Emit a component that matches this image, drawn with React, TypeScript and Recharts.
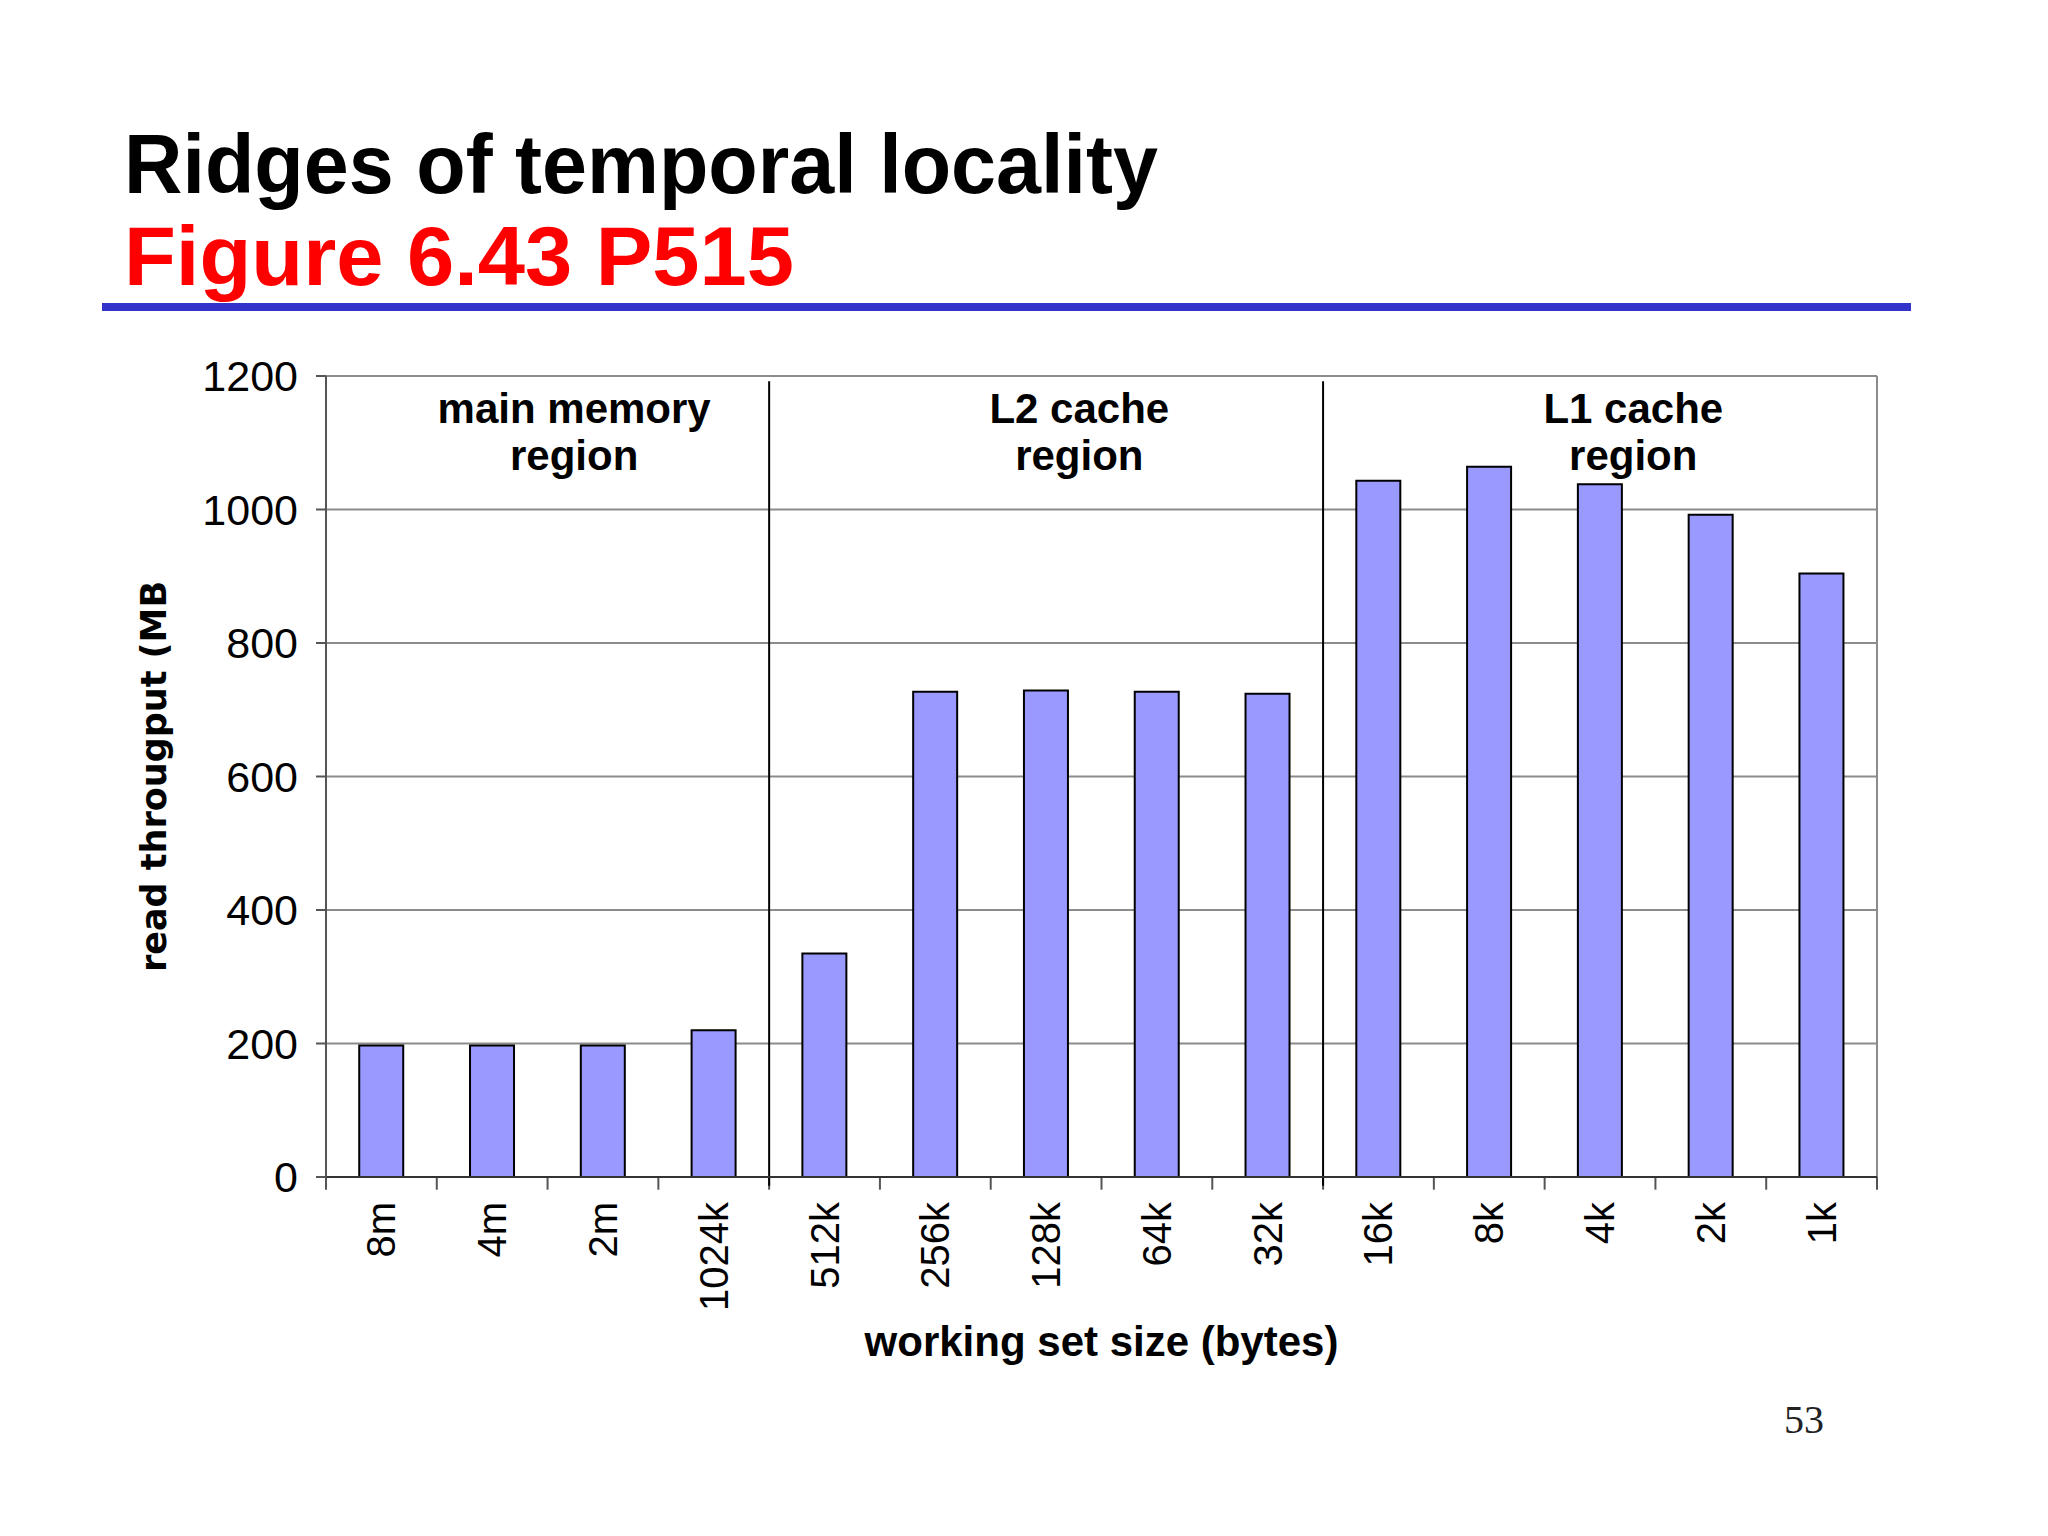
import { BarChart, Bar, XAxis, YAxis, CartesianGrid, ReferenceLine, ReferenceArea } from 'recharts';

const sizes = ['8m', '4m', '2m', '1024k', '512k', '256k', '128k', '64k', '32k', '16k', '8k', '4k', '2k', '1k'];
const throughput = [197, 197, 197, 220, 335, 727, 729, 727, 724, 1043, 1064, 1038, 992, 904];
const yTicks = [0, 200, 400, 600, 800, 1000, 1200];
const regions = [
  { lines: ['main memory', 'region'], from: '8m', to: '1024k' },
  { lines: ['L2 cache', 'region'], from: '512k', to: '32k' },
  { lines: ['L1 cache', 'region'], from: '16k', to: '1k' },
];

const data = sizes.map((s, i) => ({ size: s, mbps: throughput[i] }));
const lastSize = sizes[sizes.length - 1];

const FONT = '"Liberation Sans", Arial, sans-serif';

const SizeTick = ({ x, y, payload }: any) => (
  <text x={x} y={y} transform={`rotate(-90 ${x} ${y})`} textAnchor="end" dominantBaseline="central"
    fontSize={40} fill="#000" fontFamily={FONT}>
    {payload.value}
  </text>
);

const XTitle = ({ viewBox }: any) => (
  <text x={viewBox.x + viewBox.width / 2} y={viewBox.y + 164} textAnchor="middle" dominantBaseline="central"
    fontSize={42} fontWeight="bold" fill="#000" fontFamily={FONT}>
    working set size (bytes)
  </text>
);

const YTitle = ({ viewBox }: any) => {
  const cx = viewBox.x;
  const cy = viewBox.y + viewBox.height / 2;
  return (
    <text x={cx} y={cy} transform={`rotate(-90 ${cx} ${cy})`} textAnchor="middle" dominantBaseline="central"
      fontSize={35} fontWeight="bold" fill="#000" fontFamily='"DejaVu Sans", Verdana, sans-serif'>
      read througput (MB
    </text>
  );
};

const regionLabel = (lines: string[]) => ({ viewBox }: any) => {
  const cx = viewBox.x + viewBox.width * 0.56;
  return (
    <text x={cx} y={viewBox.y} textAnchor="middle" fontSize={42} fontWeight="bold" fill="#000" fontFamily={FONT}>
      {lines.map((l, i) => (
        <tspan key={i} x={cx} dy={47}>{l}</tspan>
      ))}
    </text>
  );
};

export default function App() {
  return (
    <div style={{ position: 'absolute', left: 0, top: 0, width: 2048, height: 1536, background: '#fff', overflow: 'hidden' }}>
      <BarChart width={2048} height={1536} data={data} barCategoryGap="30%"
        margin={{ top: 376, right: 171, left: 154, bottom: 169 }} style={{ fontFamily: FONT }}>
        <XAxis dataKey="size" height={190} interval={0} tickLine={false} tickSize={0} tickMargin={25}
          tick={<SizeTick />} axisLine={{ stroke: '#333', strokeWidth: 2 }} label={<XTitle />} />
        <YAxis width={172} domain={[0, 1200]} ticks={yTicks} interval={0} tickSize={10} tickMargin={18}
          tick={{ fill: '#000', fontSize: 43 }} axisLine={{ stroke: '#555', strokeWidth: 2 }}
          tickLine={{ stroke: '#555', strokeWidth: 2 }} label={<YTitle />} />
        <CartesianGrid vertical={false} stroke="#8c8c8c" strokeWidth={2} />
        <ReferenceLine x={lastSize} position="end" stroke="#8c8c8c" strokeWidth={2} />
        {sizes.map((s) => (
          <ReferenceLine key={`t${s}`} position="start" ifOverflow="visible"
            segment={[{ x: s, y: 0 }, { x: s, y: -19 }]} stroke="#555" strokeWidth={2} />
        ))}
        <ReferenceLine position="end" ifOverflow="visible"
          segment={[{ x: lastSize, y: 0 }, { x: lastSize, y: -19 }]} stroke="#555" strokeWidth={2} />
        {regions.slice(1).map((r) => (
          <ReferenceLine key={`s${r.from}`} position="start" ifOverflow="visible"
            segment={[{ x: r.from, y: -13 }, { x: r.from, y: 1192 }]} stroke="#000" strokeWidth={2} />
        ))}
        <Bar dataKey="mbps" fill="#9999ff" stroke="#000" strokeWidth={2} isAnimationActive={false} />
        {regions.map((r) => (
          <ReferenceArea key={`r${r.from}`} x1={r.from} x2={r.to} y1={1100} y2={1200} fill="none" stroke="none"
            ifOverflow="visible" label={regionLabel(r.lines)} />
        ))}
      </BarChart>
      <svg width={2048} height={1536} style={{ position: 'absolute', left: 0, top: 0, pointerEvents: 'none' }}>
        <text x={124} y={193} fontSize={84} fontWeight="bold" fill="#000" fontFamily={FONT}
          textLength={1034} lengthAdjust="spacingAndGlyphs">Ridges of temporal locality</text>
        <text x={124} y={285} fontSize={84} fontWeight="bold" fill="#ff0000" fontFamily={FONT}
          textLength={670} lengthAdjust="spacingAndGlyphs">Figure 6.43 P515</text>
        <rect x={102} y={303} width={1809} height={8} fill="#3333cc" />
        <text x={1784} y={1433} fontSize={40} fill="#222" fontFamily='"Liberation Serif", serif'>53</text>
      </svg>
    </div>
  );
}
